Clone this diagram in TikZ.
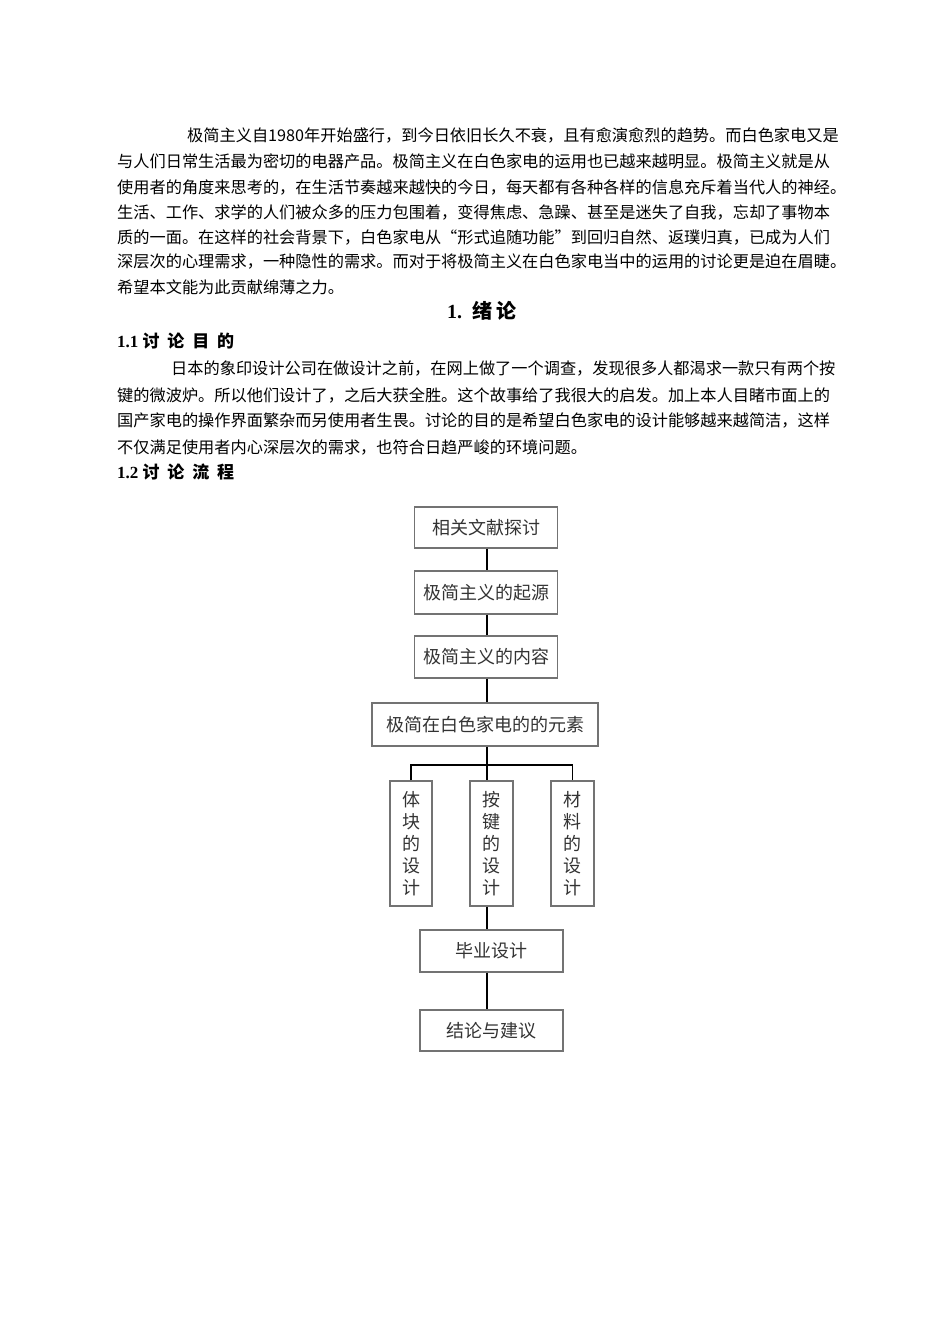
\documentclass[tikz,border=0pt]{standalone}
\usepackage{fontspec}
\setmainfont{Liberation Serif}
\newfontfamily\cjk{Noto Sans CJK SC}
\begin{document}
\begin{tikzpicture}[x=1pt,y=-1pt,
  line/.style={anchor=west,inner sep=0pt,font=\cjk\fontsize{16.2}{18}\selectfont},
  box/.style={draw=black!55,line width=1.1pt,inner sep=0pt,font=\cjk\fontsize{18}{20}\selectfont,text=black!80},
  conn/.style={line width=1.4pt}]
\useasboundingbox (0,0) rectangle (950,1344);
\node[line] (p1) at (187,135) {极简主义自1980年开始盛行，到今日依旧长久不衰，且有愈演愈烈的趋势。而白色家电又是};
\node[line] (p2) at (117,161) {与人们日常生活最为密切的电器产品。极简主义在白色家电的运用也已越来越明显。极简主义就是从};
\node[line] (p3) at (117,187) {使用者的角度来思考的，在生活节奏越来越快的今日，每天都有各种各样的信息充斥着当代人的神经。};
\node[line] (p4) at (117,212) {生活、工作、求学的人们被众多的压力包围着，变得焦虑、急躁、甚至是迷失了自我，忘却了事物本};
\node[line] (p5) at (117,237) {质的一面。在这样的社会背景下，白色家电从“形式追随功能”到回归自然、返璞归真，已成为人们};
\node[line] (p6) at (117,262) {深层次的心理需求，一种隐性的需求。而对于将极简主义在白色家电当中的运用的讨论更是迫在眉睫。};
\node[line] (p7) at (117,287) {希望本文能为此贡献绵薄之力。};
\node[inner sep=0pt,font=\fontsize{20}{22}\selectfont\bfseries] (t1) at (482,311) {1.\ \ {\cjk 绪\ 论}};
\node[line,font=\fontsize{17}{19}\selectfont\bfseries] (t2) at (117,341) {1.1 {\cjk 讨\ \ 论\ \ 目\ \ 的}};
\node[line] (q1) at (171,369) {日本的象印设计公司在做设计之前，在网上做了一个调查，发现很多人都渴求一款只有两个按};
\node[line] (q2) at (117,395) {键的微波炉。所以他们设计了，之后大获全胜。这个故事给了我很大的启发。加上本人目睹市面上的};
\node[line] (q3) at (117,421) {国产家电的操作界面繁杂而另使用者生畏。讨论的目的是希望白色家电的设计能够越来越简洁，这样};
\node[line] (q4) at (117,447) {不仅满足使用者内心深层次的需求，也符合日趋严峻的环境问题。};
\node[line,font=\fontsize{17}{19}\selectfont\bfseries] (t3) at (117,472) {1.2 {\cjk 讨\ \ 论\ \ 流\ \ 程}};
% flowchart
\node[box,minimum width=143pt,minimum height=41pt] (b1) at (486,527.5) {相关文献探讨};
\node[box,minimum width=143pt,minimum height=43pt] (b2) at (486,592.5) {极简主义的起源};
\node[box,minimum width=143pt,minimum height=42pt] (b3) at (486,657) {极简主义的内容};
\node[box,minimum width=226pt,minimum height=43pt] (b4) at (485,724.5) {极简在白色家电的的元素};
\node[box,minimum width=42pt,minimum height=125pt,align=center,font=\cjk\fontsize{18}{22}\selectfont] (c1) at (411,843.5) {体\\块\\的\\设\\计};
\node[box,minimum width=43pt,minimum height=125pt,align=center,font=\cjk\fontsize{18}{22}\selectfont] (c2) at (491.5,843.5) {按\\键\\的\\设\\计};
\node[box,minimum width=43pt,minimum height=125pt,align=center,font=\cjk\fontsize{18}{22}\selectfont] (c3) at (572.5,843.5) {材\\料\\的\\设\\计};
\node[box,minimum width=143pt,minimum height=42pt] (b5) at (491.5,951) {毕业设计};
\node[box,minimum width=143pt,minimum height=41pt] (b6) at (491.5,1030.5) {结论与建议};
\coordinate (j) at (487,765);
\draw[conn] (b1.south -| j) -- (b2.north -| j);
\draw[conn] (b2.south -| j) -- (b3.north -| j);
\draw[conn] (b3.south -| j) -- (b4.north -| j);
\draw[conn] (b4.south -| j) -- (j);
\draw[conn] (c1.north) |- (j) -| (c3.north);
\draw[conn] (j) -- (c2.north -| j);
\draw[conn] (c2.south -| j) -- (b5.north -| j);
\draw[conn] (b5.south -| j) -- (b6.north -| j);
\end{tikzpicture}
\end{document}
